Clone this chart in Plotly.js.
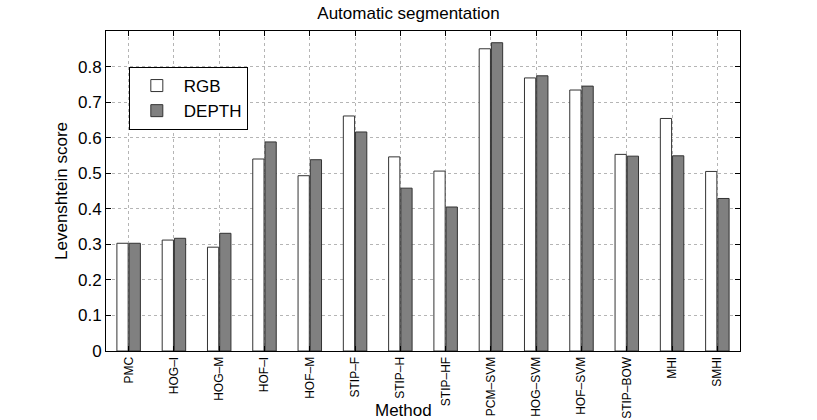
<!DOCTYPE html>
<html>
<head>
<meta charset="utf-8">
<script src="https://cdn.plot.ly/plotly-3.0.1.min.js"></script>
<style>html,body{margin:0;padding:0;background:#fff;}#chart{width:817px;height:420px;}</style>
</head>
<body>
<div id="chart"></div>
<script>
const methods = ["PMC","HOG–I","HOG–M","HOF–I","HOF–M","STIP–F","STIP–H","STIP–HF","PCM–SVM","HOG–SVM","HOF–SVM","STIP–BOW","MHI","SMHI"];
const rgbScores = [0.303,0.312,0.292,0.540,0.493,0.661,0.546,0.506,0.850,0.768,0.734,0.553,0.654,0.505];
const depthScores = [0.303,0.317,0.331,0.588,0.538,0.616,0.458,0.405,0.867,0.774,0.745,0.548,0.549,0.429];
const yTicks = [0,0.1,0.2,0.3,0.4,0.5,0.6,0.7,0.8];

const font = "Liberation Sans, Arial, Helvetica, sans-serif";

const traces = [
  {type:"bar", name:"RGB", x:methods, y:rgbScores,
   marker:{color:"#ffffff", line:{color:"#333333", width:1}}},
  {type:"bar", name:"DEPTH", x:methods, y:depthScores,
   marker:{color:"#808080", line:{color:"#333333", width:1}}}
];

const layout = {
  width:817, height:420,
  margin:{l:106, r:77, t:31, b:69},
  paper_bgcolor:"#ffffff", plot_bgcolor:"#ffffff",
  font:{family:font, color:"#000"},
  title:{text:"Automatic segmentation", font:{size:17, family:font}, x:0.5, xanchor:"center", y:0.97, yanchor:"middle"},
  barmode:"group", bargap:0.46, bargroupgap:0.08,
  showlegend:true,
  legend:{x:0.036, y:0.8875, xanchor:"left", yanchor:"top", bordercolor:"#000", borderwidth:1,
          bgcolor:"#fff", font:{size:17, family:font}, tracegroupgap:0, itemwidth:44},
  xaxis:{type:"category", range:[-0.5,13.5], tickangle:-90, tickfont:{size:12, family:font},
         ticks:"inside", ticklen:5, tickcolor:"#000", showline:true, linecolor:"#000", linewidth:1,
         mirror:"allticks", showgrid:true, gridcolor:"#b5b5b5", griddash:"dot", gridwidth:1,
         zeroline:false, automargin:false},
  yaxis:{range:[0,0.9], tickvals:yTicks, ticktext:yTicks.map(v=>String(v)), tickfont:{size:17, family:font},
         ticks:"inside", ticklen:5, tickcolor:"#000", showline:true, linecolor:"#000", linewidth:1,
         mirror:"allticks", showgrid:true, gridcolor:"#b5b5b5", griddash:"dot", gridwidth:1,
         zeroline:false, automargin:false,
         title:{text:"Levenshtein score", font:{size:17, family:font}, standoff:6}},
  annotations:[
    {text:"Method", xref:"paper", yref:"paper", x:0.47, y:-0.185, xanchor:"center", yanchor:"middle",
     showarrow:false, font:{size:17, family:font}}
  ]
};

Plotly.newPlot("chart", traces, layout, {displayModeBar:false, staticPlot:true});
</script>
</body>
</html>
